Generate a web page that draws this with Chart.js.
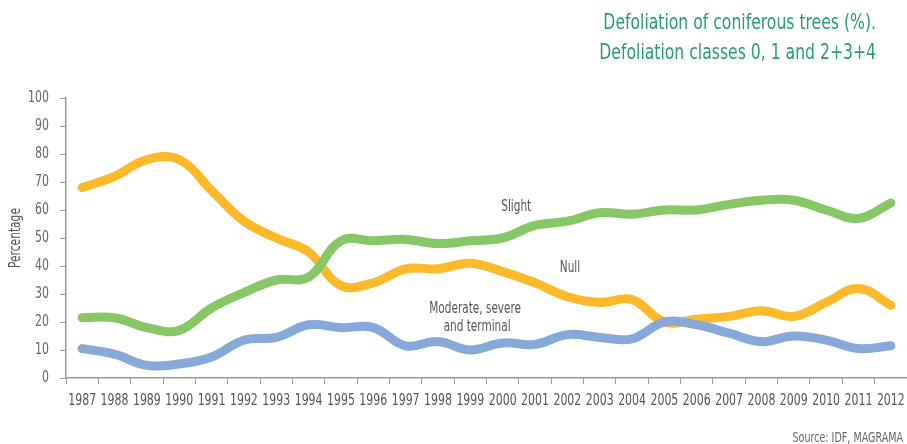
<!DOCTYPE html>
<html>
<head>
<meta charset="utf-8">
<script src="https://cdn.jsdelivr.net/npm/chart.js@4/dist/chart.umd.min.js"></script>
<style>
  html, body { margin: 0; padding: 0; background: #fff; }
  #wrap { width: 907px; height: 444px; position: relative; }
</style>
</head>
<body>
<div id="wrap"><canvas id="myChart" width="907" height="444"></canvas></div>
<script>
var years = ['1987', '1988', '1989', '1990', '1991', '1992', '1993', '1994', '1995', '1996', '1997', '1998', '1999',
    '2000', '2001', '2002', '2003', '2004', '2005', '2006', '2007', '2008', '2009', '2010', '2011', '2012'];

var nullValues = [68, 72, 78, 78, 67, 56, 50, 45, 33, 34, 39, 39, 41, 38, 34, 29, 27, 28, 20, 21, 22, 24, 22, 27, 32, 26];
var slightValues = [21.5, 21.5, 18, 17, 25, 30.5, 35, 36, 49, 49, 49.5, 48, 49, 50, 54.5, 56, 59, 58.5, 60, 60, 62, 63.5, 63.5, 60, 57, 62.5];
var moderateValues = [10.5, 8.5, 4.5, 5, 7.5, 13.5, 14.5, 19, 18, 18, 11.5, 13, 10, 12.5, 12, 15.5, 14.5, 14, 20, 19, 16, 13, 15, 13.5, 10.5, 11.5];

var yTicks = [0, 10, 20, 30, 40, 50, 60, 70, 80, 90, 100];

var titleLines = ['Defoliation of coniferous trees (%).', 'Defoliation classes 0, 1 and 2+3+4'];
var yTitle = 'Percentage';
var sourceText = 'Source: IDF, MAGRAMA';

// etiquetas de las series: [texto, indice x, valor y]
var seriesLabels = [
    ['Slight', 13.42, 61.0],
    ['Null', 15.08, 39.3],
    ['Moderate, severe', 12.15, 24.6],
    ['and terminal', 12.21, 18.2]
];

var fontName = '"DejaVu Sans Condensed", "DejaVu Sans", sans-serif';

// el original usa una fuente muy estrecha: se comprime el texto en horizontal
function drawNarrow(ctx, text, x, y, align, sx, rotate) {
    ctx.save();
    ctx.translate(x, y);
    if (rotate) ctx.rotate(-Math.PI / 2);
    ctx.scale(sx, 1);
    ctx.textAlign = align;
    ctx.fillText(text, 0, 0);
    ctx.restore();
}

var textPlugin = {
    id: 'textPlugin',
    afterDraw: function (chart) {
        var ctx = chart.ctx;
        var xs = chart.scales.x, ys = chart.scales.y;
        ctx.save();
        ctx.textBaseline = 'middle';

        // titulo
        ctx.fillStyle = '#2a9d6e';
        ctx.font = '22px ' + fontName;
        drawNarrow(ctx, titleLines[0], 876, 23, 'right', 0.79);
        drawNarrow(ctx, titleLines[1], 876, 53, 'right', 0.79);

        // etiquetas de eje x
        ctx.fillStyle = '#555';
        ctx.font = '16px ' + fontName;
        years.forEach(function (y, i) {
            drawNarrow(ctx, y, xs.getPixelForValue(i), 401, 'center', 0.76);
        });

        // etiquetas de eje y
        ctx.fillStyle = '#666';
        yTicks.forEach(function (v) {
            drawNarrow(ctx, String(v), 49, ys.getPixelForValue(v), 'right', 0.76);
        });

        ctx.fillStyle = '#555';
        ctx.font = '15px ' + fontName;
        drawNarrow(ctx, yTitle, 16, (ys.top + ys.bottom) / 2, 'center', 0.79, true);

        // nombres de las series
        ctx.font = '16px ' + fontName;
        seriesLabels.forEach(function (l) {
            drawNarrow(ctx, l[0], xs.getPixelForValue(l[1]), ys.getPixelForValue(l[2]), 'center', 0.73);
        });

        ctx.fillStyle = '#666';
        ctx.font = '14px ' + fontName;
        drawNarrow(ctx, sourceText, 903, 438, 'right', 0.76);
        ctx.restore();
    }
};

var ctx = document.getElementById('myChart').getContext('2d');

var myChart = new Chart(ctx, {
    type: 'line',
    data: {
        labels: years,
        datasets: [
            { label: 'Moderate, severe and terminal', data: moderateValues, borderColor: '#86a9d9' },
            { label: 'Slight', data: slightValues, borderColor: '#88c765' },
            { label: 'Null', data: nullValues, borderColor: '#fcb929' }
        ]
    },
    options: {
        responsive: false,
        animation: false,
        devicePixelRatio: 1,
        layout: { padding: { top: 98, left: 0, right: 0, bottom: 0 } },
        elements: {
            line: { borderWidth: 9, tension: 0.4, borderCapStyle: 'round', fill: false },
            point: { radius: 0, hoverRadius: 0 }
        },
        plugins: {
            legend: { display: false },
            tooltip: { enabled: false }
        },
        scales: {
            x: {
                offset: true,
                grid: { offset: true, drawOnChartArea: false, tickLength: 6, color: '#999' },
                border: { color: '#999', width: 1.5 },
                ticks: { display: false, autoSkip: false, maxRotation: 0 },
                afterFit: function (scale) { scale.height = 66; }
            },
            y: {
                min: 0,
                max: 100,
                afterBuildTicks: function (scale) {
                    scale.ticks = yTicks.map(function (v) { return { value: v }; });
                },
                grid: { drawOnChartArea: false, tickLength: 6, color: '#999' },
                border: { color: '#999', width: 1.5 },
                ticks: { display: false },
                afterFit: function (scale) { scale.width = 66; }
            }
        }
    },
    plugins: [textPlugin]
});
</script>
</body>
</html>
